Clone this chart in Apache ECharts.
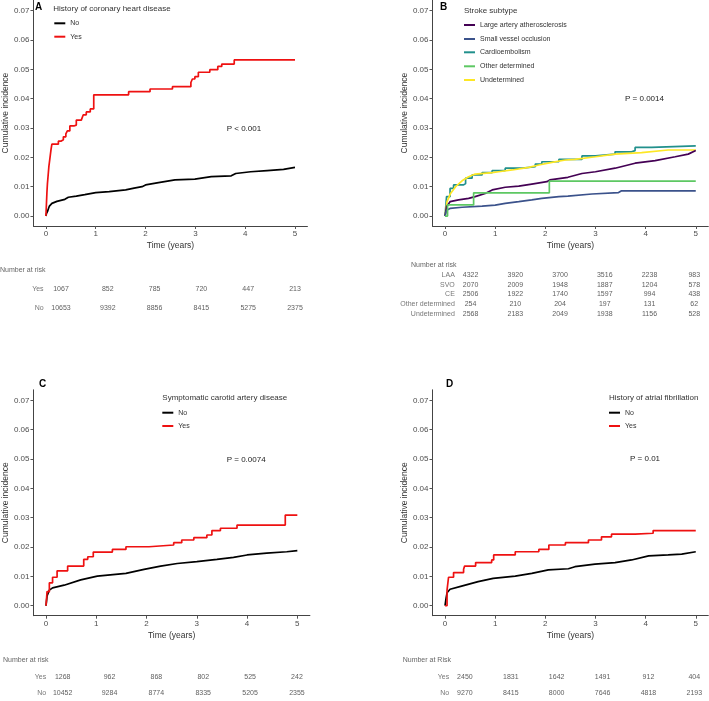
<!DOCTYPE html>
<html>
<head>
<meta charset="utf-8">
<script src="https://cdn.jsdelivr.net/npm/echarts@6/dist/echarts.min.js"></script>
<style>html,body{margin:0;padding:0;background:#fff}#c{width:709px;height:701px}</style>
</head>
<body>
<div id="c"></div>
<script>
// ---------- data ----------
const timeTicks = [0, 1, 2, 3, 4, 5];
const incidenceTicks = [0, 0.01, 0.02, 0.03, 0.04, 0.05, 0.06, 0.07];

// Panel A: History of coronary heart disease
const chdYes = [[0,0],[0.01,0.004],[0.02,0.008],[0.03,0.011],[0.045,0.014],[0.06,0.017],[0.075,0.019],[0.09,0.021],[0.105,0.023],[0.12,0.0245],[0.25,0.0255],[0.3,0.026],[0.35,0.027],[0.4,0.028],[0.43,0.029],[0.48,0.0307],[0.56,0.031],[0.61,0.0327],[0.71,0.033],[0.75,0.0345],[0.81,0.0355],[0.89,0.0365],[0.96,0.0413],[1.66,0.0424],[2.09,0.0433],[2.54,0.0441],[2.91,0.0455],[2.94,0.0467],[2.99,0.0475],[3.06,0.049],[3.29,0.0499],[3.45,0.051],[3.53,0.0518],[3.78,0.0532],[5,0.0532]];
const chdNo = [[0,0],[0.01,0.0008],[0.03,0.0015],[0.05,0.0025],[0.07,0.0034],[0.1,0.004],[0.12,0.0043],[0.22,0.005],[0.38,0.0057],[0.45,0.0064],[0.61,0.0068],[0.78,0.0073],[1.0,0.008],[1.27,0.0083],[1.6,0.0089],[1.77,0.0095],[1.93,0.01],[2.0,0.0106],[2.26,0.0114],[2.59,0.0123],[2.99,0.0126],[3.32,0.0134],[3.72,0.0137],[3.81,0.0145],[4.11,0.0151],[4.44,0.0155],[4.77,0.0159],[5,0.0166]];
const chdRiskRows = ['Yes', 'No'];
const chdRiskYes = [1067, 852, 785, 720, 447, 213];
const chdRiskNo = [10653, 9392, 8856, 8415, 5275, 2375];

// Panel B: Stroke subtype
const subtypeNames = ['Large artery atherosclerosis', 'Small vessel occlusion', 'Cardioembolism', 'Other determined', 'Undetermined'];
const subtypeColors = ['#440154', '#3B528B', '#21908C', '#5DC863', '#FDE725'];
const laa = [[0,0],[0.01,0.0009],[0.03,0.0032],[0.1,0.0049],[0.27,0.0055],[0.47,0.006],[0.6,0.0066],[0.8,0.0077],[0.94,0.0089],[1.2,0.0098],[1.47,0.0102],[1.73,0.0109],[2.03,0.0117],[2.09,0.0123],[2.45,0.0132],[2.73,0.0145],[3.0,0.0151],[3.39,0.0163],[3.79,0.018],[4.19,0.0189],[4.59,0.0202],[4.85,0.0211],[5,0.0223]];
const svo = [[0,0],[0.01,0.001],[0.03,0.002],[0.1,0.0026],[0.34,0.003],[0.74,0.0034],[1.0,0.0037],[1.2,0.0043],[1.47,0.0049],[1.73,0.0055],[1.93,0.006],[2.27,0.0066],[2.45,0.0068],[2.93,0.0075],[3.46,0.008],[3.52,0.0086],[5,0.0086]];
const ce = [[0,0],[0.01,0.002],[0.03,0.0066],[0.1,0.0094],[0.17,0.0106],[0.37,0.0111],[0.41,0.0129],[0.54,0.014],[0.74,0.0148],[0.94,0.0155],[1.2,0.0163],[1.54,0.0168],[1.8,0.0177],[1.93,0.0185],[2.27,0.0193],[2.73,0.0205],[3.0,0.0211],[3.39,0.0219],[3.72,0.0223],[3.79,0.0234],[4.12,0.0239],[5,0.0239]];
const otherDet = [[0,0],[0.05,0.0038],[0.57,0.0079],[2.08,0.0119],[5,0.0119]];
const undet = [[0,0],[0.01,0.0015],[0.04,0.0049],[0.11,0.0077],[0.21,0.01],[0.34,0.012],[0.47,0.0134],[0.6,0.0143],[0.94,0.0148],[1.07,0.0151],[1.34,0.0157],[1.67,0.0166],[1.87,0.0174],[2.13,0.0183],[2.4,0.0191],[2.59,0.0193],[3.0,0.0202],[3.39,0.0211],[3.92,0.0216],[4.45,0.0225],[5,0.0225]];
const subtypeRiskRows = ['LAA', 'SVO', 'CE', 'Other determined', 'Undetermined'];
const riskLAA = [4322, 3920, 3700, 3516, 2238, 983];
const riskSVO = [2070, 2009, 1948, 1887, 1204, 578];
const riskCE = [2506, 1922, 1740, 1597, 994, 438];
const riskOther = [254, 210, 204, 197, 131, 62];
const riskUndet = [2568, 2183, 2049, 1938, 1156, 528];

// Panel C: Symptomatic carotid artery disease
const carYes = [[0,0],[0.02,0.0048],[0.066,0.0078],[0.13,0.0097],[0.22,0.0119],[0.43,0.0135],[0.75,0.0158],[0.83,0.0167],[0.94,0.0183],[1.32,0.0192],[1.59,0.0201],[2.05,0.0207],[2.54,0.0215],[2.7,0.0224],[2.94,0.0232],[3.2,0.0241],[3.3,0.0256],[3.47,0.0264],[3.8,0.0275],[4.76,0.0309],[5,0.0309]];
const carNo = [[0,0],[0.02,0.0033],[0.066,0.0053],[0.13,0.0061],[0.36,0.007],[0.69,0.0088],[1.02,0.0101],[1.59,0.011],[1.95,0.0124],[2.28,0.0135],[2.61,0.0144],[3.0,0.015],[3.4,0.0158],[3.73,0.0165],[4.0,0.0173],[4.39,0.0179],[4.79,0.0184],[5,0.0188]];
const carRiskYes = [1268, 962, 868, 802, 525, 242];
const carRiskNo = [10452, 9284, 8774, 8335, 5205, 2355];

// Panel D: History of atrial fibrillation
const afYes = [[0,0],[0.04,0.0053],[0.07,0.0097],[0.17,0.0113],[0.37,0.0124],[0.39,0.0135],[0.61,0.0147],[0.93,0.0156],[0.97,0.0173],[1.4,0.0184],[1.87,0.0192],[2.07,0.0207],[2.4,0.0215],[2.86,0.0224],[3.12,0.0235],[3.32,0.0244],[3.79,0.0247],[4.15,0.0256],[5,0.0256]];
const afNo = [[0,0],[0.02,0.0025],[0.04,0.0044],[0.1,0.0056],[0.33,0.0067],[0.66,0.0082],[0.96,0.0093],[1.4,0.0101],[1.73,0.011],[2.06,0.0122],[2.46,0.0126],[2.59,0.0133],[2.99,0.0142],[3.39,0.0147],[3.72,0.0156],[4.06,0.017],[4.45,0.0173],[4.72,0.0176],[5,0.0184]];
const afRiskYes = [2450, 1831, 1642, 1491, 912, 404];
const afRiskNo = [9270, 8415, 8000, 7646, 4818, 2193];

// ---------- chart ----------
const FONT = 'Liberation Sans, Arial, sans-serif';
const chart = echarts.init(document.getElementById('c'), null, {renderer: 'canvas'});

const grids = [
  {left: 29.7, top: 0.1, width: 277.75, height: 225.9},
  {left: 432.5, top: 0.1, width: 275.8, height: 225.9},
  {left: 32.4, top: 389.8, width: 277.5, height: 225.9},
  {left: 432.5, top: 389.8, width: 275.8, height: 225.9},
  // risk tables
  {left: 44.6, top: 279.5, width: 266.8, height: 38},
  {left: 455.8, top: 270.1, width: 255.8, height: 48.75},
  {left: 47.2, top: 669.2, width: 265.2, height: 38},
  {left: 450.2, top: 669.2, width: 261.4, height: 38}
];

const xAxes = [], yAxes = [];
const yGaps = [20, 21.2, 21.1, 21];
for (let i = 0; i < 4; i++) {
  xAxes.push({
    type: 'value', gridIndex: i, min: -0.25, max: 5.25,
    name: 'Time (years)', nameLocation: 'middle', nameGap: 15.4,
    nameTextStyle: {fontFamily: FONT, fontSize: 8.5, color: '#333'},
    axisLine: {show: true, onZero: false, lineStyle: {color: '#444', width: 1}},
    axisTick: {show: true, length: 3, customValues: timeTicks, lineStyle: {color: '#555'}},
    axisLabel: {customValues: timeTicks, margin: 4, fontFamily: FONT, fontSize: 8, color: '#4d4d4d', formatter: v => String(v)},
    splitLine: {show: false}
  });
  yAxes.push({
    type: 'value', gridIndex: i, min: -0.0034, max: 0.0736,
    name: 'Cumulative incidence', nameLocation: 'middle', nameGap: yGaps[i], nameRotate: 90,
    nameTextStyle: {fontFamily: FONT, fontSize: 8.5, color: '#333'},
    axisLine: {show: true, onZero: false, lineStyle: {color: '#444', width: 1}},
    axisTick: {show: true, length: 3, customValues: incidenceTicks, lineStyle: {color: '#555'}},
    axisLabel: {customValues: incidenceTicks, margin: 4, fontFamily: FONT, fontSize: 8, color: '#4d4d4d', formatter: v => v.toFixed(2)},
    splitLine: {show: false}
  });
}
const riskXRange = [[-0.35, 5.35], [-0.33, 5.33], [-0.33, 5.33], [-0.32, 5.32]];
const riskRows = [chdRiskRows, subtypeRiskRows, chdRiskRows, chdRiskRows];
for (let i = 0; i < 4; i++) {
  xAxes.push({type: 'value', gridIndex: 4 + i, min: riskXRange[i][0], max: riskXRange[i][1], show: false});
  yAxes.push({
    type: 'category', gridIndex: 4 + i, data: riskRows[i], inverse: true,
    axisLine: {show: false}, axisTick: {show: false}, splitLine: {show: false},
    axisLabel: {margin: 1, fontFamily: FONT, fontSize: 7, color: '#777'}
  });
}

const series = [];
function curve(name, data, color, idx, stepped, z) {
  series.push({
    name: name, type: 'line', xAxisIndex: idx, yAxisIndex: idx, data: data,
    step: stepped ? 'end' : false, showSymbol: false, symbol: 'none', color: color,
    lineStyle: {color: color, width: 1.7}, z: z || 2, animation: false
  });
}
curve('A|No', chdNo, '#000000', 0, false);
curve('A|Yes', chdYes, '#EE1111', 0, true, 3);
curve('B|' + subtypeNames[0], laa, subtypeColors[0], 1, false, 4);
curve('B|' + subtypeNames[1], svo, subtypeColors[1], 1, false, 4);
curve('B|' + subtypeNames[2], ce, subtypeColors[2], 1, true, 3);
curve('B|' + subtypeNames[3], otherDet, subtypeColors[3], 1, true, 5);
curve('B|' + subtypeNames[4], undet, subtypeColors[4], 1, false, 3);
curve('C|No', carNo, '#000000', 2, false);
curve('C|Yes', carYes, '#EE1111', 2, true, 3);
curve('D|No', afNo, '#000000', 3, false);
curve('D|Yes', afYes, '#EE1111', 3, true, 3);

function riskTable(idx, rowsData) {
  const pts = [];
  rowsData.forEach((row, r) => row.forEach((v, c) => pts.push([c, r, v])));
  series.push({
    type: 'scatter', xAxisIndex: idx, yAxisIndex: idx, data: pts,
    symbolSize: 1, itemStyle: {color: 'rgba(0,0,0,0)'}, silent: true,
    label: {show: true, position: 'inside', formatter: p => String(p.value[2]),
            fontFamily: FONT, fontSize: 7, color: '#333'}
  });
}
riskTable(4, [chdRiskYes, chdRiskNo]);
riskTable(5, [riskLAA, riskSVO, riskCE, riskOther, riskUndet]);
riskTable(6, [carRiskYes, carRiskNo]);
riskTable(7, [afRiskYes, afRiskNo]);

// legends, one per item for precise placement
const legendItems = [
  ['A|No', 54.3, 23.3], ['A|Yes', 54.3, 36.7],
  ['B|' + subtypeNames[0], 464, 25], ['B|' + subtypeNames[1], 464, 39], ['B|' + subtypeNames[2], 464, 52.3],
  ['B|' + subtypeNames[3], 464, 66.3], ['B|' + subtypeNames[4], 464, 80],
  ['C|No', 162.3, 412.7], ['C|Yes', 162.3, 426],
  ['D|No', 609, 412.7], ['D|Yes', 609, 426]
];
const legends = legendItems.map(([n, x, y]) => ({
  data: [n], left: x, top: y - 4, padding: 0, itemWidth: 11, itemHeight: 2, icon: 'rect',
  selectedMode: false, formatter: s => s.split('|')[1],
  textStyle: {fontFamily: FONT, fontSize: 7, color: '#333', lineHeight: 8}
}));

function txt(s, x, y, font, fill) {
  return {type: 'text', x: x, y: y, silent: true,
    style: {text: s, font: font, fill: fill, textVerticalAlign: 'middle', verticalAlign: 'middle', textAlign: 'left', align: 'left'}};
}
const graphics = [
  txt('A', 35, 7.5, 'bold 10px ' + FONT, '#000'),
  txt('B', 440, 7, 'bold 10px ' + FONT, '#000'),
  txt('C', 39, 384, 'bold 10px ' + FONT, '#000'),
  txt('D', 446, 384, 'bold 10px ' + FONT, '#000'),
  txt('History of coronary heart disease', 53.3, 8.3, '8px ' + FONT, '#333'),
  txt('Stroke subtype', 464, 11, '8px ' + FONT, '#333'),
  txt('Symptomatic carotid artery disease', 162.3, 398, '8px ' + FONT, '#333'),
  txt('History of atrial fibrillation', 609, 398, '8px ' + FONT, '#333'),
  txt('P < 0.001', 226.7, 128.3, '8px ' + FONT, '#222'),
  txt('P = 0.0014', 625, 99, '8px ' + FONT, '#222'),
  txt('P = 0.0074', 226.7, 459.3, '8px ' + FONT, '#222'),
  txt('P = 0.01', 630, 459, '8px ' + FONT, '#222'),
  txt('Number at risk', 0, 270, '7px ' + FONT, '#666'),
  txt('Number at risk', 411, 265, '7px ' + FONT, '#666'),
  txt('Number at risk', 3, 660, '7px ' + FONT, '#666'),
  txt('Number at Risk', 402.7, 660, '7px ' + FONT, '#666')
];

chart.setOption({
  animation: false,
  backgroundColor: '#fff',
  grid: grids,
  xAxis: xAxes,
  yAxis: yAxes,
  legend: legends,
  series: series,
  graphic: graphics
});
</script>
</body>
</html>
